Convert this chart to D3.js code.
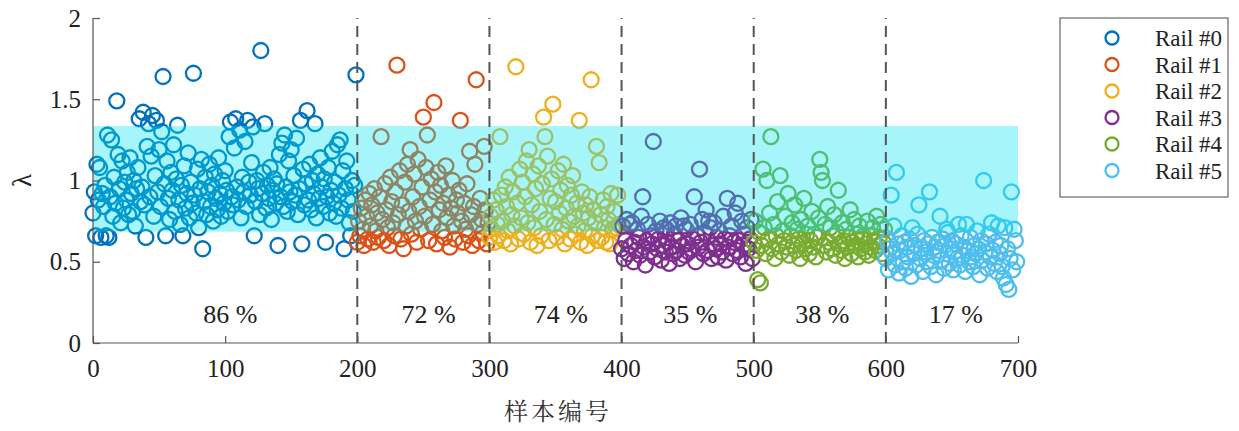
<!DOCTYPE html>
<html><head><meta charset="utf-8">
<script src="https://cdn.jsdelivr.net/npm/d3@7"></script>
<style>body{margin:0;background:#fff}svg{display:block}</style>
</head><body>
<svg id="c" width="1239" height="431"></svg>
<script>
const rails = ["Rail #0","Rail #1","Rail #2","Rail #3","Rail #4","Rail #5"];
const colors = ["#0072BD","#D95319","#EDB120","#7E2F8E","#77AC30","#4DBEEE"];
const starts = [0,200,300,400,500,600];
const rail0 = [0.80,0.93,0.66,1.10,0.88,1.08,0.65,0.92,0.84,0.97,
0.66,1.28,0.65,0.90,1.25,0.78,1.02,0.86,1.49,1.16,
0.95,0.74,1.12,0.83,0.99,0.88,1.05,0.79,1.14,0.92,
0.81,1.00,0.72,0.95,1.08,1.38,0.87,0.96,1.42,0.85,
0.65,1.21,1.35,0.90,1.15,1.40,0.78,1.03,1.37,0.93,
1.19,0.84,1.30,1.64,0.98,0.66,1.12,0.89,0.76,1.05,
0.94,1.22,0.81,1.01,1.34,0.88,0.73,0.97,0.66,1.09,
0.83,0.92,1.17,0.77,0.99,0.86,1.66,0.91,0.80,1.07,
0.71,0.95,1.13,0.58,0.87,1.02,0.79,0.93,1.10,0.84,
0.97,0.75,1.04,0.89,0.82,1.14,0.92,0.78,1.00,0.86,
1.06,0.94,0.81,1.27,1.36,0.90,0.85,1.20,1.38,0.96,
0.88,1.31,0.77,1.02,0.93,1.24,0.84,1.37,0.99,0.91,
1.11,1.33,0.66,0.87,1.00,0.95,0.79,1.80,0.92,1.05,
1.35,0.83,0.97,0.89,1.08,0.76,0.94,1.01,0.86,0.98,
0.60,1.16,0.90,1.23,0.84,1.28,0.96,0.81,1.12,0.93,
1.19,0.87,1.03,0.91,1.26,0.79,0.95,1.37,0.61,1.07,
0.85,0.98,1.43,0.88,1.10,0.82,1.00,0.92,1.35,0.77,
1.04,0.89,1.14,0.96,0.84,1.01,0.62,0.90,1.08,0.80,
0.94,1.18,0.86,0.99,0.78,1.22,0.91,1.25,0.83,1.06,
0.58,0.95,1.12,0.88,0.74,0.66,1.00,0.81,0.97,1.65];
const rail1 = [0.62,0.75,0.66,0.83,0.70,0.60,0.88,0.78,0.64,0.92,
0.72,0.85,0.62,0.95,0.69,0.80,0.65,0.90,1.27,0.76,
0.63,0.98,0.82,0.71,0.60,1.02,0.87,0.74,0.66,0.93,
1.71,0.79,1.06,0.64,0.85,0.58,0.99,0.72,1.10,0.81,
1.19,0.67,0.90,1.04,0.75,0.62,1.13,0.84,0.70,0.96,
1.39,0.78,1.08,1.28,0.63,0.88,1.01,0.73,1.48,0.93,
0.61,1.05,0.82,0.97,0.69,0.86,0.65,1.09,0.77,0.91,
0.59,0.83,1.00,0.72,0.64,0.88,0.80,0.94,1.37,0.75,
0.62,0.86,0.70,0.98,0.66,1.18,0.79,0.60,0.84,1.10,
1.62,0.73,0.63,0.89,0.76,0.68,1.21,0.82,0.61,0.74];
const rail2 = [0.65,0.78,0.70,0.88,0.62,0.82,0.73,0.66,1.27,0.91,
0.75,0.63,0.96,0.84,0.69,1.02,0.61,0.79,0.93,0.72,
1.70,0.86,0.64,1.07,0.77,0.99,0.67,0.90,1.12,0.74,
1.19,0.62,0.85,1.04,0.71,0.95,0.60,1.09,0.81,0.66,
0.98,1.39,1.27,0.76,1.15,0.63,0.89,1.01,1.47,0.73,
0.87,0.65,1.06,0.80,0.94,0.70,1.10,0.61,0.83,0.97,
0.75,0.64,0.91,1.03,0.78,0.67,0.86,0.72,1.37,0.62,
0.93,0.80,0.69,0.85,0.60,0.77,0.90,1.62,0.66,0.82,
0.74,1.21,0.63,1.11,0.79,0.65,0.88,0.71,0.62,0.84,
0.76,0.61,0.92,0.70,0.70,0.81,0.71,0.91,0.73,0.72];
const rail3 = [0.58,0.72,0.52,0.63,0.76,0.55,0.73,0.60,0.74,0.50,
0.62,0.57,0.70,0.65,0.54,0.78,0.90,0.59,0.48,0.63,
0.73,0.56,0.66,0.61,1.24,0.53,0.69,0.58,0.64,0.75,
0.51,0.60,0.71,0.56,0.70,0.62,0.49,0.74,0.59,0.55,
0.67,0.72,0.57,0.63,0.52,0.77,0.60,0.72,0.54,0.70,
0.61,0.56,0.73,0.58,0.64,0.90,0.50,0.66,0.59,1.07,
0.62,0.76,0.55,0.68,0.82,0.57,0.75,0.71,0.52,0.60,
0.74,0.58,0.65,0.53,0.69,0.61,0.56,0.78,0.64,0.51,
0.89,0.59,0.66,0.72,0.55,0.62,0.80,0.57,0.86,0.63,
0.53,0.75,0.60,0.67,0.49,0.71,0.58,0.64,0.76,0.52];
const rail4 = [0.62,0.75,0.57,0.39,0.68,0.37,0.60,1.07,0.71,0.55,
1.00,0.64,0.80,1.27,0.58,0.73,0.52,0.66,0.87,0.61,
1.03,0.56,0.69,0.63,0.78,0.59,0.92,0.54,0.66,0.74,
0.60,0.85,0.57,0.70,0.64,0.52,0.76,0.61,0.89,0.58,
0.67,0.72,0.55,0.63,0.81,0.59,0.67,0.53,0.65,0.77,
1.13,1.05,1.00,0.60,0.73,0.56,0.84,0.62,0.71,0.58,
0.66,0.79,0.54,0.68,0.94,0.61,0.57,0.74,0.63,0.52,
0.70,0.59,0.65,0.82,0.55,0.62,0.76,0.60,0.67,0.53,
0.72,0.58,0.64,0.66,0.56,0.61,0.75,0.54,0.66,0.59,
0.71,0.63,0.57,0.78,0.60,0.65,0.73,0.55,0.62,0.70];
const rail5 = [0.52,0.63,0.45,0.58,0.91,0.55,0.72,0.48,1.05,0.61,
0.43,0.57,0.66,0.50,0.62,0.46,0.59,0.53,0.64,0.41,
0.71,0.55,0.60,0.48,0.67,0.85,0.52,0.58,0.44,0.63,
0.56,0.50,0.61,0.93,0.47,0.65,0.54,0.59,0.42,0.62,
0.57,0.78,0.51,0.64,0.46,0.60,0.70,0.68,0.49,0.58,
0.63,0.45,0.56,0.61,0.52,0.73,0.48,0.66,0.54,0.59,
0.44,0.73,0.57,0.50,0.65,0.53,0.47,0.60,0.55,0.69,
0.58,0.42,0.63,0.51,1.00,0.56,0.61,0.46,0.67,0.53,
0.74,0.57,0.49,0.62,0.44,0.72,0.55,0.60,0.47,0.40,
0.71,0.36,0.58,0.33,0.52,0.93,0.45,0.70,0.63,0.50];
const series = [rail0, rail1, rail2, rail3, rail4, rail5];
const bandRange = [0.685, 1.335];
const dividers = [200,300,400,500,600];
const pctLabels = ["86 %","72 %","74 %","35 %","38 %","17 %"];
const pctX = [104,254,354,452,552,653];
const xTicks = [0,100,200,300,400,500,600,700];
const yTicks = [0,0.5,1,1.5,2];

const SERIF = '"Liberation Serif"';
const svg = d3.select("#c");
const L=93, R=1018, T=18, B=343;
const x = d3.scaleLinear().domain([0,700]).range([L,R]);
const y = d3.scaleLinear().domain([0,2]).range([B,T]);

series.forEach((vals, k) => {
  svg.append("g").selectAll("circle").data(vals).join("circle")
    .attr("cx",(d,i)=>x(starts[k]+i)).attr("cy",d=>y(d)).attr("r",7.5)
    .attr("fill","none").attr("stroke",colors[k]).attr("stroke-width",2.3);
});
svg.append("rect").attr("x",x(0)).attr("width",x(700)-x(0))
  .attr("y",y(bandRange[1])).attr("height",y(bandRange[0])-y(bandRange[1]))
  .attr("fill","rgb(0,225,240)").attr("fill-opacity",0.35);
svg.append("g").selectAll("line").data(dividers).join("line")
  .attr("x1",d=>x(d)).attr("x2",d=>x(d)).attr("y1",y(0)).attr("y2",y(2))
  .attr("stroke","#555").attr("stroke-width",2).attr("stroke-dasharray","11,7");
const xa = svg.append("g").attr("transform",`translate(0,${B})`)
  .call(d3.axisBottom(x).tickValues(xTicks).tickSize(-7).tickPadding(16).tickFormat(d3.format("d")));
const ya = svg.append("g").attr("transform",`translate(${L},0)`)
  .call(d3.axisLeft(y).tickValues(yTicks).tickSize(-7).tickPadding(12).tickFormat(d=>String(d)));
[xa,ya].forEach(a=>{
  a.attr("font-family",null).attr("font-size",null);
  a.select(".domain").attr("stroke","#555").attr("stroke-width",1.2);
  a.selectAll(".tick line").attr("stroke","#555").attr("stroke-width",1.2);
  a.selectAll("text").style("font-family",SERIF).style("font-size","25px").attr("fill","#222");
});
ya.select(".domain").attr("d",`M0,${B}V${T}`);
xa.select(".domain").attr("d",`M${L},0H${R}`);
svg.append("g").selectAll("text").data(pctLabels).join("text")
  .attr("x",(d,i)=>x(pctX[i])).attr("y",y(0.125)).attr("text-anchor","middle")
  .style("font-family",SERIF).style("font-size","26px").attr("fill","#222").text(d=>d);
svg.append("text").attr("transform",`translate(31,${y(1)}) rotate(-90)`)
  .attr("text-anchor","middle").style("font-family",SERIF).style("font-size","27px").attr("fill","#222").text("λ");
svg.append("text").attr("x",558).attr("y",420).attr("text-anchor","middle")
  .style("font-family",'"Noto Serif CJK SC","Noto Sans CJK SC"').style("font-size","24px").attr("letter-spacing",3)
  .attr("fill","#333").text("样本编号");
const lg = svg.append("g");
lg.append("rect").attr("x",1060).attr("y",18).attr("width",168).attr("height",179)
  .attr("fill","#fff").attr("stroke","#666").attr("stroke-width",1.2);
rails.forEach((r,i)=>{
  const yy = 38 + i*26.5;
  lg.append("circle").attr("cx",1112).attr("cy",yy).attr("r",6.5).attr("fill","none")
    .attr("stroke",colors[i]).attr("stroke-width",2.3);
  lg.append("text").attr("x",1155).attr("y",yy).attr("dy","0.35em")
    .style("font-family",SERIF).style("font-size","23px").attr("fill","#222").text(r);
});
</script>
</body></html>
